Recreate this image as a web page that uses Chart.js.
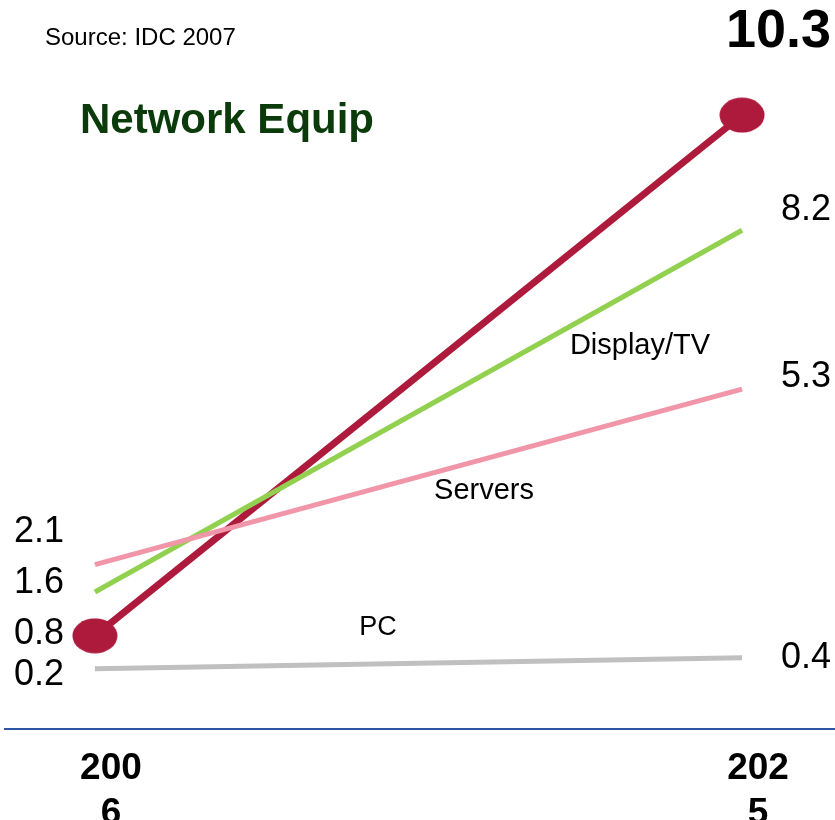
<!DOCTYPE html>
<html>
<head>
<meta charset="utf-8">
<script src="https://cdn.jsdelivr.net/npm/chart.js@4/dist/chart.umd.min.js"></script>
<style>
  html, body { margin: 0; padding: 0; background: #fff; }
  #wrap { width: 835px; height: 820px; }
</style>
</head>
<body>
<div id="wrap"><canvas id="graph" width="835" height="820"></canvas></div>
<script>
// data
const years = [2006, 2025];
const yearLabels = [["200", "6"], ["202", "5"]];
const seriesNames = ["Network Equip", "Display/TV", "Servers", "PC"];
const networkEquip = [0.8, 10.3];
const displayTV = [1.6, 8.2];
const servers = [2.1, 5.3];
const pc = [0.2, 0.4];
const sourceNote = "Source: IDC 2007";

const FONT = "'Liberation Sans', Arial, sans-serif";

// ellipse-shaped marker for the Network Equip line
const dot = document.createElement("canvas");
dot.width = 46; dot.height = 36;
const dctx = dot.getContext("2d");
dctx.fillStyle = "#ae1a3c";
dctx.beginPath();
dctx.ellipse(23, 18, 22.5, 17.5, 0, 0, Math.PI * 2);
dctx.fill();

function pts(vals) {
  return vals.map((v, i) => ({ x: years[i], y: v }));
}

// texts on the chart: names, end values, source note
const textPlugin = {
  id: "texts",
  afterDatasetsDraw(chart) {
    const { ctx } = chart;
    const xs = chart.scales.x, ys = chart.scales.y;
    const yAt = (vals, px) => {
      const x0 = xs.getPixelForValue(years[0]), x1 = xs.getPixelForValue(years[1]);
      const y0 = ys.getPixelForValue(vals[0]), y1 = ys.getPixelForValue(vals[1]);
      return y0 + (y1 - y0) * (px - x0) / (x1 - x0);
    };
    ctx.save();
    ctx.textBaseline = "middle";
    ctx.fillStyle = "#000";

    ctx.font = "24px " + FONT;
    ctx.textAlign = "left";
    ctx.fillText(sourceNote, 45, 38);

    ctx.font = "bold 42px " + FONT;
    ctx.fillStyle = "#0b3b0b";
    ctx.fillText(seriesNames[0], 80, 121);

    ctx.fillStyle = "#000";
    ctx.font = "bold 54px " + FONT;
    ctx.textAlign = "right";
    ctx.fillText(networkEquip[1].toFixed(1), 831, 32);

    // left-hand start values
    ctx.font = "36px " + FONT;
    ctx.textAlign = "left";
    ctx.fillText(servers[0].toFixed(1), 14, 532);
    ctx.fillText(displayTV[0].toFixed(1), 14, 583);
    ctx.fillText(networkEquip[0].toFixed(1), 14, 634);
    ctx.fillText(pc[0].toFixed(1), 14, 675);

    // right-hand end values, next to the line ends
    ctx.textAlign = "right";
    ctx.fillText(displayTV[1].toFixed(1), 831, ys.getPixelForValue(displayTV[1]) - 20);
    ctx.fillText(servers[1].toFixed(1), 831, ys.getPixelForValue(servers[1]) - 12);
    ctx.fillText(pc[1].toFixed(1), 831, ys.getPixelForValue(pc[1]));

    // series names beside their lines
    ctx.font = "29px " + FONT;
    ctx.textAlign = "center";
    ctx.fillText(seriesNames[1], 640, yAt(displayTV, 570) + 20);
    ctx.fillText(seriesNames[2], 484, yAt(servers, 435) + 19);
    ctx.font = "27px " + FONT;
    ctx.fillText(seriesNames[3], 378, yAt(pc, 378) - 36);
    ctx.restore();
  }
};

new Chart(document.getElementById("graph").getContext("2d"), {
  type: "line",
  data: {
    datasets: [
      {
        label: seriesNames[3],
        data: pts(pc),
        borderColor: "#c0c0c0",
        borderWidth: 5,
        pointRadius: 0
      },
      {
        label: seriesNames[2],
        data: pts(servers),
        borderColor: "#f096a8",
        borderWidth: 5,
        pointRadius: 0
      },
      {
        label: seriesNames[1],
        data: pts(displayTV),
        borderColor: "#92d050",
        borderWidth: 5,
        pointRadius: 0
      },
      {
        label: seriesNames[0],
        data: pts(networkEquip),
        borderColor: "#ae1a3c",
        borderWidth: 7,
        pointStyle: dot,
        pointRadius: 20
      }
    ]
  },
  options: {
    responsive: false,
    animation: false,
    clip: false,
    layout: { autoPadding: false, padding: { left: 5, right: 0, top: 0, bottom: 0 } },
    plugins: {
      legend: { display: false },
      tooltip: { enabled: false }
    },
    scales: {
      x: {
        type: "linear",
        min: 2003.36,
        max: 2027.73,
        grid: { display: false },
        border: { display: true, color: "#2b56a5", width: 2 },
        afterBuildTicks: axis => { axis.ticks = years.map(v => ({ value: v })); },
        afterFit: axis => {
          axis.height = 91;
          axis.paddingLeft = 0;
          axis.paddingRight = 0;
        },
        ticks: {
          autoSkip: false,
          maxRotation: 0,
          padding: 9,
          labelOffset: 16,
          color: "#000",
          font: { family: FONT, size: 37, weight: "bold", lineHeight: 1.22 },
          callback: v => {
            const i = years.indexOf(v);
            return i >= 0 ? yearLabels[i] : "";
          }
        }
      },
      y: {
        display: false,
        min: -0.9,
        max: 12.4
      }
    }
  },
  plugins: [textPlugin]
});
</script>
</body>
</html>
